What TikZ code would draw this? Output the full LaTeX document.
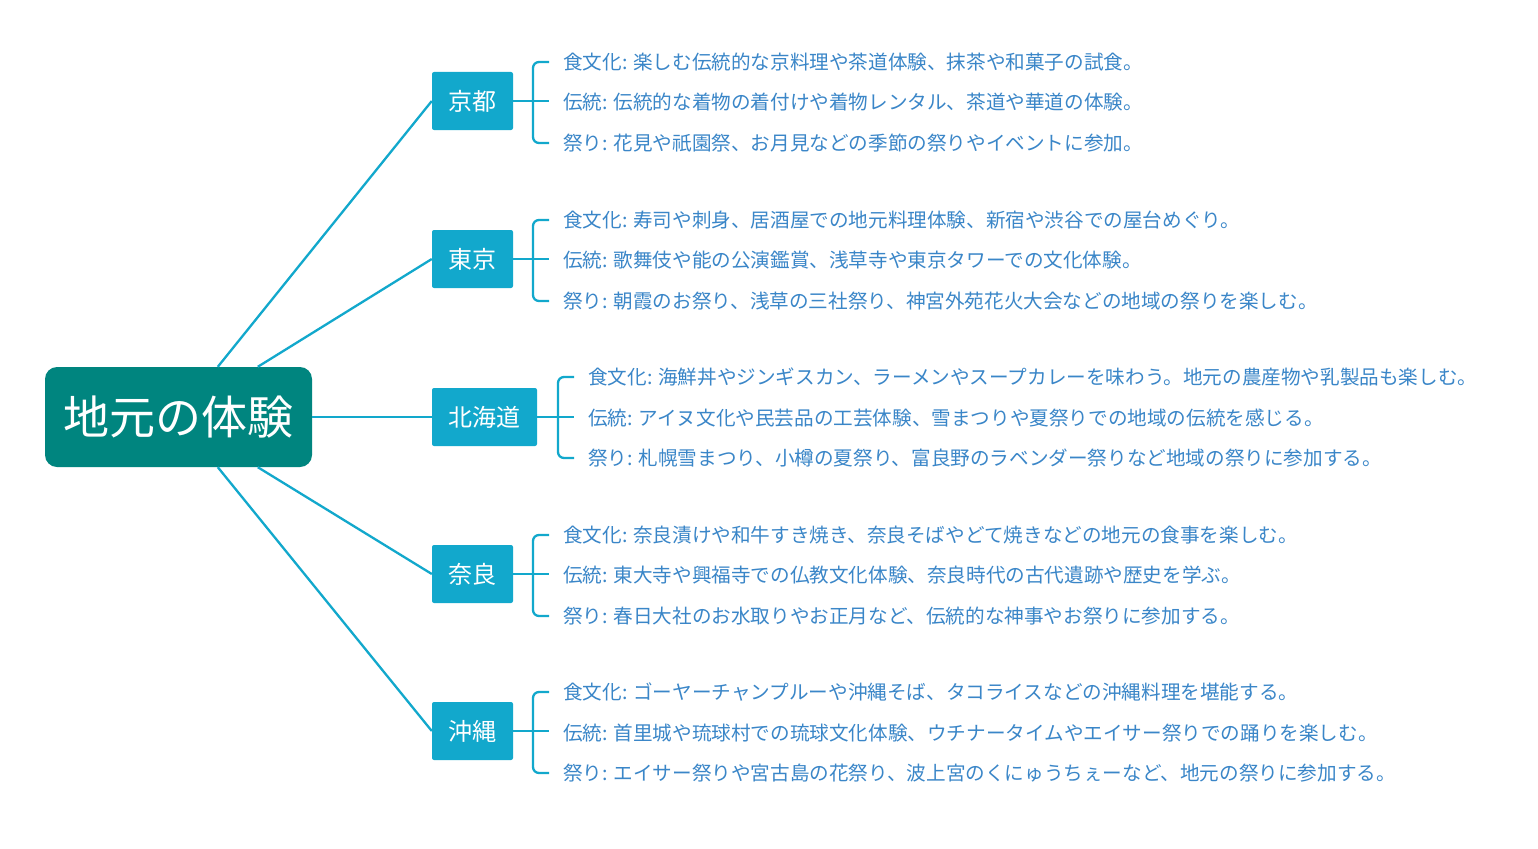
\documentclass[tikz,border=0pt]{standalone}
\usepackage{fontspec}
\setmainfont{Noto Sans CJK JP}
\usetikzlibrary{calc}
\definecolor{rootc}{RGB}{0,133,127}
\definecolor{branchc}{RGB}{18,168,204}
\definecolor{leafc}{RGB}{58,134,200}
\tikzset{
  rootbox/.style={draw=none, fill=rootc, rounded corners=12pt, minimum width=267pt, minimum height=100pt, text=white, font=\fontsize{46}{52}\selectfont, inner sep=0pt},
  branchbox/.style={draw=none, fill=branchc, rounded corners=2pt, minimum height=58pt, text=white, font=\fontsize{24}{28}\selectfont, inner sep=0pt},
  leaftext/.style={anchor=west, inner sep=0pt, text=leafc, font=\fontsize{19.6}{23}\selectfont},
  conn/.style={draw=branchc, line width=2.3pt},
  brk/.style={draw=branchc, line width=2.3pt, rounded corners=6pt}
}
\begin{document}
\begin{tikzpicture}[x=1pt,y=-1pt]
\useasboundingbox[fill=white] (0,0) rectangle (1538,848);
\node[rootbox] (root) at (178.5,417) {地元の体験};
\node[branchbox, minimum width=81pt] (kyoto) at (472.5,101) {京都};
\node[branchbox, minimum width=81pt] (tokyo) at (472.5,259) {東京};
\node[branchbox, minimum width=105pt] (hokkaido) at (484.5,417) {北海道};
\node[branchbox, minimum width=81pt] (nara) at (472.5,574) {奈良};
\node[branchbox, minimum width=81pt] (okinawa) at (472.5,731) {沖縄};

\draw[conn] ($(root.north west)+(173,0)$) -- (kyoto.west);
\draw[conn] ($(root.north west)+(213,0)$) -- (tokyo.west);
\draw[conn] (root.east) -- (hokkaido.west);
\draw[conn] ($(root.south west)+(213,0)$) -- (nara.west);
\draw[conn] ($(root.south west)+(173,0)$) -- (okinawa.west);

% Kyoto
\node[leaftext] (k1) at (563,62) {食文化: 楽しむ伝統的な京料理や茶道体験、抹茶や和菓子の試食。};
\node[leaftext] (k2) at (563,102) {伝統: 伝統的な着物の着付けや着物レンタル、茶道や華道の体験。};
\node[leaftext] (k3) at (563,143) {祭り: 花見や祇園祭、お月見などの季節の祭りやイベントに参加。};
% Tokyo
\node[leaftext] (t1) at (563,220) {食文化: 寿司や刺身、居酒屋での地元料理体験、新宿や渋谷での屋台めぐり。};
\node[leaftext] (t2) at (563,260) {伝統: 歌舞伎や能の公演鑑賞、浅草寺や東京タワーでの文化体験。};
\node[leaftext] (t3) at (563,301) {祭り: 朝霞のお祭り、浅草の三社祭り、神宮外苑花火大会などの地域の祭りを楽しむ。};
% Hokkaido
\node[leaftext] (h1) at (588,377) {食文化: 海鮮丼やジンギスカン、ラーメンやスープカレーを味わう。地元の農産物や乳製品も楽しむ。};
\node[leaftext] (h2) at (588,418) {伝統: アイヌ文化や民芸品の工芸体験、雪まつりや夏祭りでの地域の伝統を感じる。};
\node[leaftext] (h3) at (588,458) {祭り: 札幌雪まつり、小樽の夏祭り、富良野のラベンダー祭りなど地域の祭りに参加する。};
% Nara
\node[leaftext] (n1) at (563,535) {食文化: 奈良漬けや和牛すき焼き、奈良そばやどて焼きなどの地元の食事を楽しむ。};
\node[leaftext] (n2) at (563,575) {伝統: 東大寺や興福寺での仏教文化体験、奈良時代の古代遺跡や歴史を学ぶ。};
\node[leaftext] (n3) at (563,616) {祭り: 春日大社のお水取りやお正月など、伝統的な神事やお祭りに参加する。};
% Okinawa
\node[leaftext] (o1) at (563,692) {食文化: ゴーヤーチャンプルーや沖縄そば、タコライスなどの沖縄料理を堪能する。};
\node[leaftext] (o2) at (563,733) {伝統: 首里城や琉球村での琉球文化体験、ウチナータイムやエイサー祭りでの踊りを楽しむ。};
\node[leaftext] (o3) at (563,773) {祭り: エイサー祭りや宮古島の花祭り、波上宮のくにゅうちぇーなど、地元の祭りに参加する。};

% brackets
\foreach \b/\a/\m/\z in {kyoto/k1/k2/k3, tokyo/t1/t2/t3, hokkaido/h1/h2/h3, nara/n1/n2/n3, okinawa/o1/o2/o3}{
  \draw[brk] ($(\a.west)+(-14,0)$) -- ($(\a.west)+(-30,0)$) -- ($(\z.west)+(-30,0)$) -- ($(\z.west)+(-14,0)$);
  \draw[conn] (\b.east) -- ($(\b.east -| \m.west)+(-14,0)$);
}
\end{tikzpicture}
\end{document}
